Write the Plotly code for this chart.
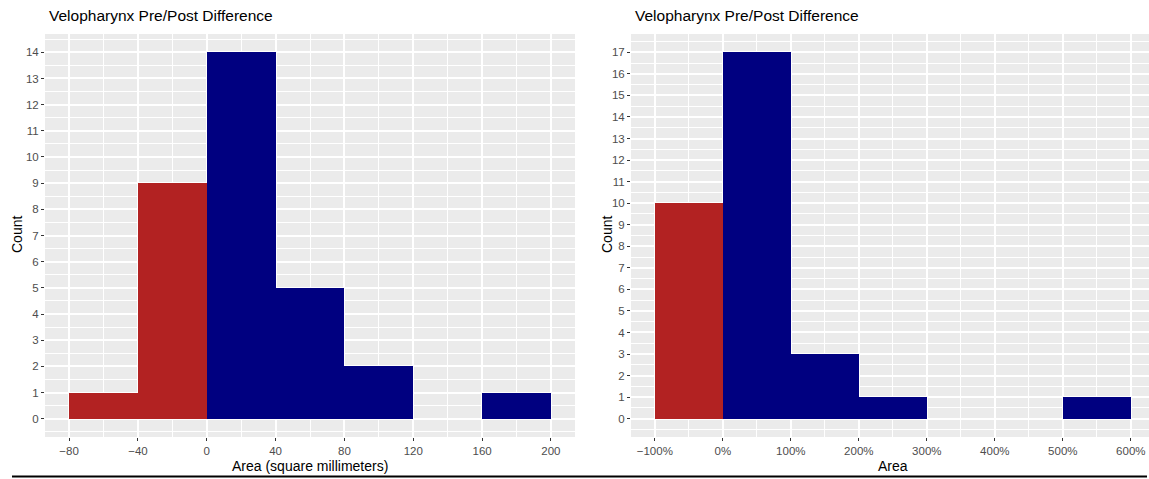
import plotly.graph_objects as go

W, H = 1149, 479

# ---- data ----
mm_bin_edges = [-80, -40, 0, 40, 80, 120, 160, 200]
mm_counts = [1, 9, 14, 5, 2, 0, 1]

pct_bin_edges = [-1.0, 0.0, 1.0, 2.0, 3.0, 4.0, 5.0, 6.0]
pct_counts = [10, 17, 3, 1, 0, 0, 1]

title_text = "Velopharynx Pre/Post Difference"
left_xlabel = "Area (square millimeters)"
right_xlabel = "Area"
ylabel = "Count"

RED = "#B22222"
NAVY = "#000080"
FONT = "Liberation Sans, Arial, sans-serif"


def bins(edges, counts):
    centers = [(edges[i] + edges[i + 1]) / 2 for i in range(len(counts))]
    widths = [edges[i + 1] - edges[i] for i in range(len(counts))]
    colors = [RED if edges[i + 1] <= 0 else NAVY for i in range(len(counts))]
    return centers, widths, colors


fig = go.Figure()
c, w, col = bins(mm_bin_edges, mm_counts)
fig.add_trace(go.Bar(x=c, y=mm_counts, width=w, marker=dict(color=col, line=dict(width=0)),
                     xaxis="x", yaxis="y", showlegend=False))
c, w, col = bins(pct_bin_edges, pct_counts)
fig.add_trace(go.Bar(x=c, y=pct_counts, width=w, marker=dict(color=col, line=dict(width=0)),
                     xaxis="x2", yaxis="y2", showlegend=False))

px = lambda v: v / W
py = lambda v: 1 - v / H

ydom = [py(437), py(34)]
tickfont = dict(family=FONT, size=11.5, color="#4D4D4D")
common_axis = dict(showgrid=True, gridcolor="white", gridwidth=1.6, zeroline=False,
                   ticks="outside", ticklen=3, tickwidth=1.1, tickcolor="#333333",
                   tickfont=tickfont, showline=False, fixedrange=True)
minor = dict(showgrid=True, gridcolor="white", gridwidth=0.8, ticks="")

fig.update_layout(
    width=W, height=H,
    margin=dict(l=0, r=0, t=0, b=0),
    paper_bgcolor="white",
    plot_bgcolor="#EBEBEB",
    bargap=0,
    xaxis=dict(domain=[px(45), px(575)], anchor="y", range=[-94, 214],
               tick0=-80, dtick=40, minor=dict(dtick=20, **minor), **common_axis),
    yaxis=dict(domain=ydom, anchor="x", range=[-0.7, 14.7],
               tick0=0, dtick=1, minor=dict(dtick=0.5, **minor), **common_axis),
    xaxis2=dict(domain=[px(631), 1.0], anchor="y2", range=[-1.35, -1.35 + 518 / 68],
                tick0=-1, dtick=1, tickformat=".0%", minor=dict(dtick=0.5, **minor), **common_axis),
    yaxis2=dict(domain=ydom, anchor="x2", range=[-0.85, 17.85],
                tick0=0, dtick=1, minor=dict(dtick=0.5, **minor), **common_axis),
    font=dict(family=FONT),
)

ann_common = dict(xref="paper", yref="paper", showarrow=False)
fig.add_annotation(x=px(47), y=py(16), text=title_text, xanchor="left", yanchor="middle",
                   font=dict(family=FONT, size=15.5, color="black"), **ann_common)
fig.add_annotation(x=px(633), y=py(16), text=title_text, xanchor="left", yanchor="middle",
                   font=dict(family=FONT, size=15.5, color="black"), **ann_common)
fig.add_annotation(x=px(17), y=py(235), text=ylabel, textangle=-90, xanchor="center", yanchor="middle",
                   font=dict(family=FONT, size=14, color="black"), **ann_common)
fig.add_annotation(x=px(607), y=py(235), text=ylabel, textangle=-90, xanchor="center", yanchor="middle",
                   font=dict(family=FONT, size=14, color="black"), **ann_common)
fig.add_annotation(x=px(310), y=py(466), text=left_xlabel, xanchor="center", yanchor="middle",
                   font=dict(family=FONT, size=14, color="black"), **ann_common)
fig.add_annotation(x=px(893), y=py(466), text=right_xlabel, xanchor="center", yanchor="middle",
                   font=dict(family=FONT, size=14, color="black"), **ann_common)

fig.add_shape(type="line", xref="paper", yref="paper", x0=px(12), x1=px(1147),
              y0=py(476.5), y1=py(476.5), line=dict(color="black", width=2))

fig.write_html("out.html")
